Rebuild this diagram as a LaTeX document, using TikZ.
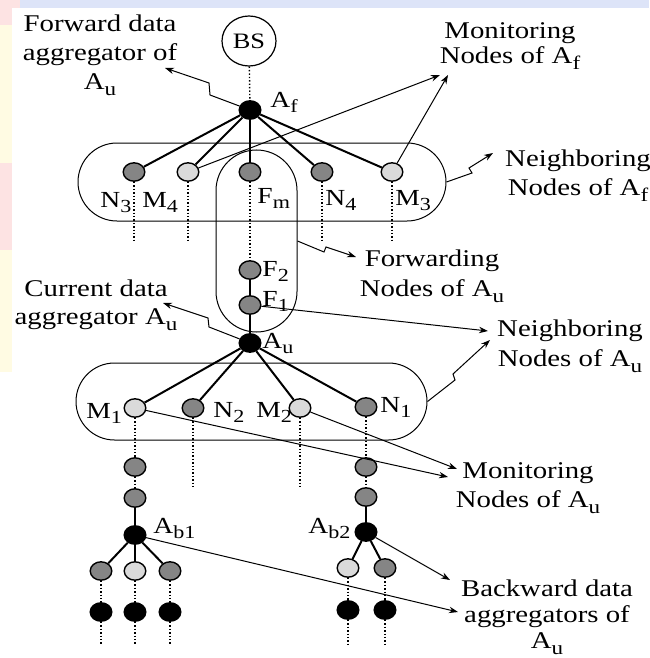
\documentclass[tikz,border=0pt]{standalone}
\usepackage{fontspec}
\setmainfont{Liberation Serif}[FakeStretch=1.2]
\usepackage{xcolor}
\usepackage{graphicx}
\usetikzlibrary{positioning, arrows.meta, shapes.geometric}
\definecolor{nodedark}{HTML}{858585}
\definecolor{nodelight}{HTML}{DADADA}
\definecolor{slideblue}{HTML}{DDE4F8}
\definecolor{slideyellow}{HTML}{FFFBE3}
\definecolor{slidepink}{HTML}{FDE3E3}
% lowered index as in A_u, N_3
\newcommand{\lowidx}[1]{\raisebox{-0.26em}{\scalebox{0.8}{#1}}}
\tikzset{
  sensor/.style={
    ellipse,
    draw=black,
    line width=0.7pt,
    minimum width=10.8pt,
    minimum height=9.2pt,
    inner sep=0pt
  },
  darknode/.style={sensor, fill=nodedark},
  lightnode/.style={sensor, fill=nodelight},
  aggnode/.style={sensor, fill=black},
  groupbox/.style={
    rectangle,
    draw,
    line width=0.5pt,
    inner sep=0pt
  },
  linkline/.style={line width=1pt},
  tailline/.style={densely dotted, line width=0.7pt},
  notearrow/.style={
    -{Stealth[length=4.5pt,width=3.2pt]},
    line width=0.5pt
  },
  notetext/.style={
    align=center,
    inner sep=0pt,
    font=\fontsize{12}{14.5}\selectfont
  },
  nodelabel/.style={
    inner sep=0pt,
    font=\fontsize{11.5}{13}\selectfont
  }
}

\begin{document}
\begin{tikzpicture}[x=0.5pt, y=-0.5pt]
  \useasboundingbox (0,0) rectangle (649,658);
  % slide background strips
  \fill[slideblue] (0,0) rectangle (649,8);
  \fill[slideyellow] (0,8) rectangle (12,372);
  \fill[slidepink] (0,0) rectangle (20,8);
  \fill[slidepink] (0,8) rectangle (12,25);
  \fill[slidepink] (0,163) rectangle (12,250);

  % group outlines
  \node[groupbox, minimum width=184pt, minimum height=39pt, rounded corners=19.5pt] (nbrAf) at (262,182) {};
  \node[groupbox, minimum width=40.5pt, minimum height=91pt, rounded corners=20.25pt] (fwdAu) at (256.5,241) {};
  \node[groupbox, minimum width=175.5pt, minimum height=38.5pt, rounded corners=19.25pt] (nbrAu) at (251.5,401.5) {};

  % base station and forward aggregator
  \node[ellipse, draw, line width=0.6pt, minimum width=27pt, minimum height=25pt,
        inner sep=0pt, font=\fontsize{11}{12}\selectfont] (BS) at (249,41) {BS};
  \node[aggnode] (Af) at (250,110) {};

  % neighbours of Af
  \node[darknode] (N3) at (134,172) {};
  \node[lightnode] (M4) at (188,172) {};
  \node[darknode] (Fm) at (250,172) {};
  \node[darknode] (N4) at (322,172) {};
  \node[lightnode] (M3) at (392,172) {};

  % forwarding path down to Au
  \node[darknode] (F2) at (250,270) {};
  \node[darknode] (F1) at (250,305) {};
  \node[aggnode] (Au) at (250,343) {};

  % neighbours of Au
  \node[lightnode] (M1) at (135,408) {};
  \node[darknode] (N2) at (193,408) {};
  \node[lightnode] (M2) at (300,408) {};
  \node[darknode] (N1) at (366,407) {};

  % left backward branch
  \node[darknode] (L1) at (135,467) {};
  \node[darknode] (L2) at (135,498) {};
  \node[aggnode] (Ab1) at (135,535) {};
  \node[darknode] (La) at (101,571) {};
  \node[lightnode] (Lb) at (135,571) {};
  \node[darknode] (Lc) at (170,571) {};
  \node[aggnode] (LaEnd) at (101,612) {};
  \node[aggnode] (LbEnd) at (135,612) {};
  \node[aggnode] (LcEnd) at (170,612) {};

  % right backward branch
  \node[darknode] (R1) at (366,467) {};
  \node[darknode] (R2) at (366,497) {};
  \node[aggnode] (Ab2) at (366,532) {};
  \node[lightnode] (Ra) at (348,568) {};
  \node[darknode] (Rb) at (385,568) {};
  \node[aggnode] (RaEnd) at (348,610) {};
  \node[aggnode] (RbEnd) at (385,610) {};

  % levels where the dotted tails stop
  \coordinate (topTail) at (0,240);
  \coordinate (midTail) at (0,488);
  \coordinate (lowTail) at (0,645);

  % links
  \draw[tailline] (BS) -- (Af);
  \foreach \n in {N3,M4,Fm,N4,M3} \draw[linkline] (Af) -- (\n);
  \foreach \n in {N3,M4,N4,M3} \draw[tailline] (\n) -- (\n |- topTail);
  \draw[tailline] (Fm) -- (F2);
  \draw[linkline] (F2) -- (F1);
  \draw[linkline] (F1) -- (Au);
  \foreach \n in {M1,N2,M2,N1} \draw[linkline] (Au) -- (\n);
  \foreach \n in {N2,M2} \draw[tailline] (\n) -- (\n |- midTail);
  \draw[tailline] (M1) -- (L1);
  \draw[tailline] (L1) -- (L2);
  \draw[linkline] (L2) -- (Ab1);
  \draw[tailline] (N1) -- (R1);
  \draw[tailline] (R1) -- (R2);
  \draw[linkline] (R2) -- (Ab2);
  \foreach \n in {La,Lb,Lc} \draw[linkline] (Ab1) -- (\n);
  \foreach \n in {Ra,Rb} \draw[linkline] (Ab2) -- (\n);
  \foreach \n in {La,Lb,Lc,Ra,Rb} \draw[tailline] (\n) -- (\n End);
  \foreach \n in {LaEnd,LbEnd,LcEnd,RaEnd,RbEnd} \draw[tailline] (\n) -- (\n |- lowTail);

  % node labels
  \node[nodelabel, anchor=base west] (lblAf) at (270,107) {A\lowidx{f}};
  \node[nodelabel, anchor=base west] (lblN3) at (100,207) {N\lowidx{3}};
  \node[nodelabel, anchor=base west] (lblM4) at (142,207) {M\lowidx{4}};
  \node[nodelabel, anchor=base west] (lblFm) at (257,203) {F\lowidx{m}};
  \node[nodelabel, anchor=base west] (lblN4) at (325,205) {N\lowidx{4}};
  \node[nodelabel, anchor=base west] (lblM3) at (395,205) {M\lowidx{3}};
  \node[nodelabel, anchor=base west] (lblF2) at (262,276) {F\lowidx{2}};
  \node[nodelabel, anchor=base west] (lblF1) at (262,306) {F\lowidx{1}};
  \node[nodelabel, anchor=base west] (lblAu) at (262,348) {A\lowidx{u}};
  \node[nodelabel, anchor=base west] (lblM1) at (86,418) {M\lowidx{1}};
  \node[nodelabel, anchor=base west] (lblN2) at (213,417) {N\lowidx{2}};
  \node[nodelabel, anchor=base west] (lblM2) at (256,417) {M\lowidx{2}};
  \node[nodelabel, anchor=base west] (lblN1) at (380,412) {N\lowidx{1}};
  \node[nodelabel, anchor=base west] (lblAb1) at (153,533) {A\lowidx{b1}};
  \node[nodelabel, anchor=base west] (lblAb2) at (308,533) {A\lowidx{b2}};

  % annotations
  \node[notetext, anchor=north] (txtFwdAgg) at (100,14) {Forward data\\aggregator of\\A\lowidx{u}};
  \node[notetext, anchor=north, font=\fontsize{12}{12.5}\selectfont] (txtMonAf) at (510,22) {Monitoring\\Nodes of A\lowidx{f}};
  \node[notetext, anchor=north] (txtNbrAf) at (578,149) {Neighboring\\Nodes of A\lowidx{f}};
  \node[notetext, anchor=north, font=\fontsize{12}{15}\selectfont] (txtFwdAu) at (432,249) {Forwarding\\Nodes of A\lowidx{u}};
  \node[notetext, anchor=north, font=\fontsize{12}{14}\selectfont] (txtCurAgg) at (96,279) {Current data\\aggregator A\lowidx{u}};
  \node[notetext, anchor=north, font=\fontsize{12}{15}\selectfont] (txtNbrAu) at (570,319) {Neighboring\\Nodes of A\lowidx{u}};
  \node[notetext, anchor=north] (txtMonAu) at (528,462) {Monitoring\\Nodes of A\lowidx{u}};
  \node[notetext, anchor=north, font=\fontsize{12}{13}\selectfont] (txtBwdAgg) at (547,579) {Backward data\\aggregators of\\A\lowidx{u}};

  % arrow tips next to the annotations
  \coordinate (fwdAggTip) at (165,68);
  \coordinate (monAfTipA) at (440,75);
  \coordinate (monAfTipB) at (448,75);
  \coordinate (nbrAfTip) at (493,153);
  \coordinate (fwdAuTip) at (356,257);
  \coordinate (curAggTip) at (163,303);
  \coordinate (nbrAuTipA) at (488,331);
  \coordinate (nbrAuTipB) at (490,340);
  \coordinate (monAuTipA) at (457,469);
  \coordinate (monAuTipB) at (448,477);
  \coordinate (bwdTipA) at (450,580);
  \coordinate (bwdTipB) at (458,612);

  % pointers, the broken ones with a small jog
  \draw[notearrow] (Af) -- (210,95) -- (209,83) -- (fwdAggTip);
  \draw[notearrow] (M4) -- (monAfTipA);
  \draw[notearrow] (M3) -- (monAfTipB);
  \draw[notearrow] (nbrAf.east) -- (472,173) -- (469,168) -- (nbrAfTip);
  \draw[notearrow] (fwdAu.east) -- (324,252) -- (326,247) -- (fwdAuTip);
  \draw[notearrow] (Au) -- (209,327) -- (208,318) -- (curAggTip);
  \draw[notearrow] (F1) -- (nbrAuTipA);
  \draw[notearrow] (nbrAu.east) -- (455,380) -- (453,374) -- (nbrAuTipB);
  \draw[notearrow] (M2) -- (monAuTipA);
  \draw[notearrow] (M1) -- (monAuTipB);
  \draw[notearrow] (Ab2) -- (bwdTipA);
  \draw[notearrow] (Ab1) -- (bwdTipB);
\end{tikzpicture}
\end{document}
